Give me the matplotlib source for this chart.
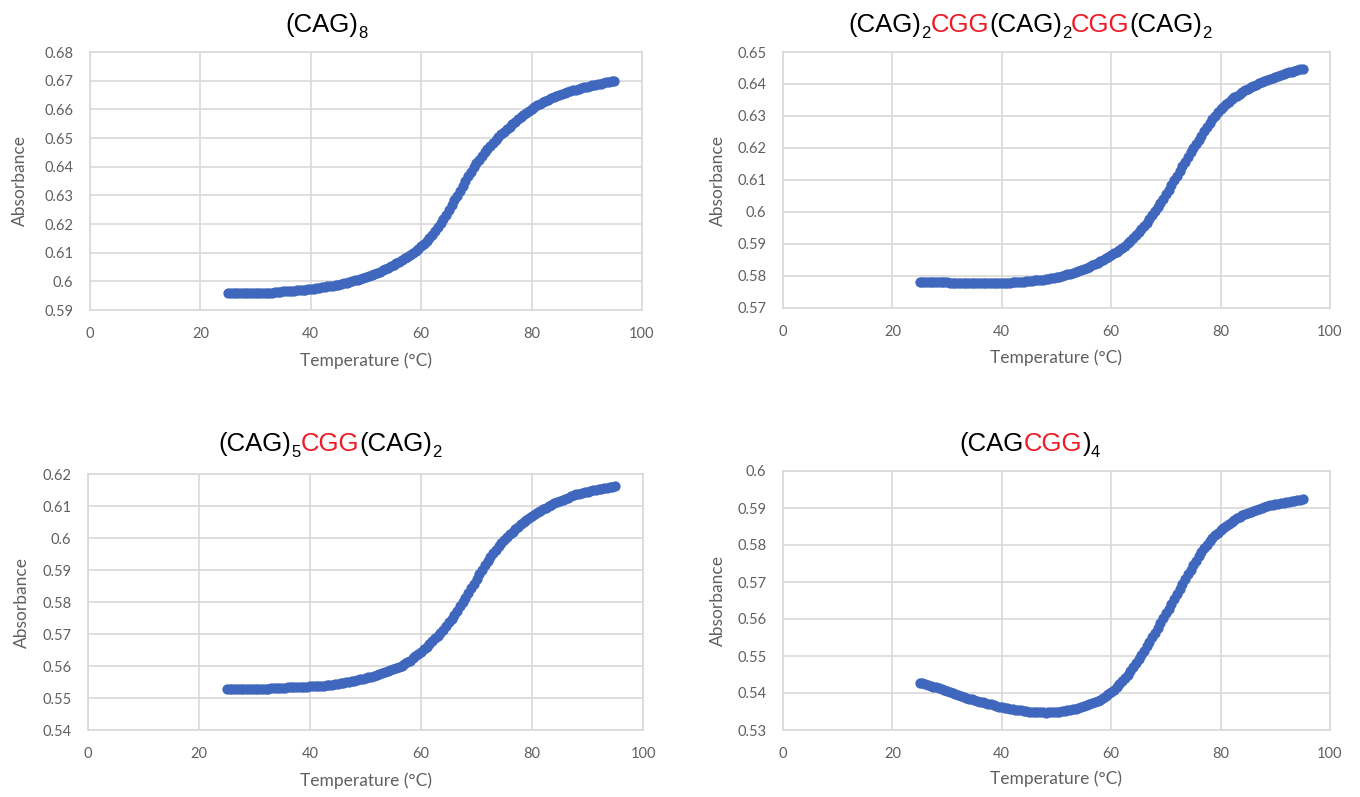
import numpy as np
import matplotlib
matplotlib.use("Agg")
import matplotlib.pyplot as plt
from matplotlib.ticker import FixedLocator, FuncFormatter

# temperature grid of the melt run (deg C)
temps = [25.0, 25.5, 26.0, 26.5, 27.0, 27.5, 28.0, 28.5, 29.0, 29.5,
         30.0, 30.5, 31.0, 31.5, 32.0, 32.5, 33.0, 33.5, 34.0, 34.5,
         35.0, 35.5, 36.0, 36.5, 37.0, 37.5, 38.0, 38.5, 39.0, 39.5,
         40.0, 40.5, 41.0, 41.5, 42.0, 42.5, 43.0, 43.5, 44.0, 44.5,
         45.0, 45.5, 46.0, 46.5, 47.0, 47.5, 48.0, 48.5, 49.0, 49.5,
         50.0, 50.5, 51.0, 51.5, 52.0, 52.5, 53.0, 53.5, 54.0, 54.5,
         55.0, 55.5, 56.0, 56.5, 57.0, 57.5, 58.0, 58.5, 59.0, 59.5,
         60.0, 60.5, 61.0, 61.5, 62.0, 62.5, 63.0, 63.5, 64.0, 64.5,
         65.0, 65.5, 66.0, 66.5, 67.0, 67.5, 68.0, 68.5, 69.0, 69.5,
         70.0, 70.5, 71.0, 71.5, 72.0, 72.5, 73.0, 73.5, 74.0, 74.5,
         75.0, 75.5, 76.0, 76.5, 77.0, 77.5, 78.0, 78.5, 79.0, 79.5,
         80.0, 80.5, 81.0, 81.5, 82.0, 82.5, 83.0, 83.5, 84.0, 84.5,
         85.0, 85.5, 86.0, 86.5, 87.0, 87.5, 88.0, 88.5, 89.0, 89.5,
         90.0, 90.5, 91.0, 91.5, 92.0, 92.5, 93.0, 93.5, 94.0, 94.5,
         95.0]

abs_cag8 = [.5960, .59595, .5959, .59585, .5958, .5958, .5958, .5958, .5958, .5958,
            .5958, .59585, .5959, .59595, .5960, .59605, .5961, .5962, .5963, .5964,
            .5965, .59655, .5966, .5967, .5968, .5969, .5970, .59705, .5971, .5972,
            .5973, .59745, .5976, .59775, .5979, .59805, .5982, .59835, .5985, .59865,
            .5988, .59905, .5993, .5995, .5997, .6000, .6003, .60055, .6008, .60115,
            .6015, .60185, .6022, .6026, .6030, .6034, .6038, .6043, .6048, .6053,
            .6058, .60635, .6069, .60745, .6080, .6086, .6092, .60985, .6105, .61135,
            .6122, .61315, .6141, .6152, .6163, .61755, .6188, .62025, .6217, .6233,
            .6249, .62655, .6282, .6299, .6316, .6333, .6350, .63665, .6383, .63975,
            .6412, .6425, .6438, .6450, .6462, .64725, .6483, .6493, .6503, .65125,
            .6522, .6531, .6540, .65485, .6557, .6565, .6573, .65805, .6588, .6595,
            .6602, .6608, .6614, .66195, .6625, .66295, .6634, .66385, .6643, .6647,
            .6651, .66545, .6658, .6661, .6664, .66665, .6669, .66715, .6674, .66765,
            .6679, .66815, .6684, .6686, .6688, .6690, .6692, .6694, .6696, .6698,
            .6700]

abs_2cgg = [.5782, .57815, .5781, .5781, .5781, .57805, .5780, .5780, .5780, .5780,
            .5780, .57795, .5779, .5779, .5779, .57785, .5778, .5778, .5778, .5778,
            .5778, .5778, .5778, .5778, .5778, .5778, .5778, .5778, .5778, .57785,
            .5779, .5779, .5779, .57795, .5780, .57805, .5781, .57815, .5782, .5783,
            .5784, .5785, .5786, .5787, .5788, .5789, .5790, .57915, .5793, .57945,
            .5796, .5798, .5800, .58025, .5805, .58075, .5810, .5813, .5816, .58195,
            .5823, .5826, .5829, .5833, .5837, .58415, .5846, .58505, .5855, .5860,
            .5865, .58705, .5876, .5882, .5888, .5895, .5902, .5910, .5918, .5927,
            .5936, .5946, .5956, .5967, .5978, .5990, .6002, .6015, .6028, .60415,
            .6055, .60695, .6084, .60985, .6113, .6128, .6143, .61575, .6172, .6186,
            .6200, .6213, .6226, .6239, .6252, .6265, .6278, .62895, .6301, .6311,
            .6321, .63295, .6338, .6345, .6352, .6358, .6364, .63695, .6375, .6380,
            .6385, .63895, .6394, .6398, .6402, .6406, .6410, .64135, .6417, .6420,
            .6423, .6426, .6429, .64315, .6434, .64365, .6439, .64415, .6444, .6446,
            .6448]

abs_1cgg = [.5528, .55275, .5527, .5527, .5527, .5527, .5527, .5527, .5527, .5527,
            .5527, .55275, .5528, .55285, .5529, .55295, .5530, .55305, .5531, .55315,
            .5532, .55325, .5533, .5533, .5533, .55335, .5534, .55345, .5535, .55355,
            .5536, .55365, .5537, .55375, .5538, .5539, .5540, .5541, .5542, .5543,
            .5544, .55455, .5547, .55485, .5550, .5552, .5554, .5556, .5558, .5560,
            .5562, .55645, .5567, .5570, .5573, .55755, .5578, .5581, .5584, .5587,
            .5590, .55935, .5597, .56015, .5606, .56115, .5617, .56235, .5630, .56375,
            .5645, .56525, .5660, .56685, .5677, .5686, .5695, .57045, .5714, .5725,
            .5736, .5748, .5760, .5773, .5786, .5800, .5814, .58285, .5843, .58575,
            .5872, .58865, .5901, .59145, .5928, .59405, .5953, .5964, .5975, .5985,
            .5995, .60035, .6012, .6020, .6028, .60355, .6043, .60495, .6056, .6062,
            .6068, .6074, .6080, .6085, .6090, .60945, .6099, .61035, .6108, .6112,
            .6116, .61195, .6123, .61265, .6130, .6133, .6136, .61385, .6141, .6143,
            .6145, .6147, .6149, .6151, .6153, .61545, .6156, .61575, .6159, .61605,
            .6162]

abs_cagcgg4 = [.5428, .5426, .5424, .54215, .5419, .5417, .5415, .54125, .5410, .54075,
               .5405, .54025, .5400, .53975, .5395, .53925, .5390, .53875, .5385, .5383,
               .5381, .5379, .5377, .5375, .5373, .5371, .5369, .5367, .5365, .53635,
               .5362, .53605, .5359, .53575, .5356, .5355, .5354, .5353, .5352, .5351,
               .5350, .53495, .5349, .53485, .5348, .53475, .5347, .53475, .5348, .53485,
               .5349, .5350, .5351, .5352, .5353, .53545, .5356, .5358, .5360, .5362,
               .5364, .53665, .5369, .5372, .5375, .53785, .5382, .53865, .5391, .53965,
               .5402, .5409, .5416, .5424, .5432, .5441, .5450, .5460, .5470, .54805,
               .5491, .55025, .5514, .5526, .5538, .55505, .5563, .5576, .5589, .5602,
               .5615, .5628, .5641, .5654, .5667, .56805, .5694, .57075, .5721, .57335,
               .5746, .5758, .5770, .57805, .5791, .58005, .5810, .5818, .5826, .5833,
               .5840, .5846, .5852, .58575, .5863, .58675, .5872, .5876, .5880, .58835,
               .5887, .5890, .5893, .58955, .5898, .59005, .5903, .5905, .5907, .59085,
               .5910, .59115, .5913, .59145, .5916, .59175, .5919, .5920, .5921, .5922,
               .5923]

x_ticks = [0, 20, 40, 60, 80, 100]
y_ticks_cag8 = [0.59, 0.60, 0.61, 0.62, 0.63, 0.64, 0.65, 0.66, 0.67, 0.68]
y_ticks_2cgg = [0.57, 0.58, 0.59, 0.60, 0.61, 0.62, 0.63, 0.64, 0.65]
y_ticks_1cgg = [0.54, 0.55, 0.56, 0.57, 0.58, 0.59, 0.60, 0.61, 0.62]
y_ticks_cagcgg4 = [0.53, 0.54, 0.55, 0.56, 0.57, 0.58, 0.59, 0.60]

# title pieces: (text, colour, subscript?)
title_cag8 = [("(CAG)", "k", False), ("8", "k", True)]
title_2cgg = [("(CAG)", "k", False), ("2", "k", True), ("CGG", "red", False),
              ("(CAG)", "k", False), ("2", "k", True), ("CGG", "red", False),
              ("(CAG)", "k", False), ("2", "k", True)]
title_1cgg = [("(CAG)", "k", False), ("5", "k", True), ("CGG", "red", False),
              ("(CAG)", "k", False), ("2", "k", True)]
title_cagcgg4 = [("(CAG", "k", False), ("CGG", "red", False), (")", "k", False),
                 ("4", "k", True)]

W, H = 1360, 797
BLUE = "#3F67BD"
GRID = "#d9d9d9"
TXT = "#606060"
RED = "#ee1c25"

fig = plt.figure(figsize=(W / 100, H / 100), dpi=100)
fig.patch.set_facecolor("white")


def px_axes(left, top, right, bottom):
    return fig.add_axes([left / W, 1 - bottom / H, (right - left) / W, (bottom - top) / H])


def fmt(v, pos):
    s = "%.2f" % v
    s = s.rstrip("0")
    return s


def setup(ax, yvals, yticks, ylab_x, xlab_y):
    ax.plot(temps, yvals, "o", color=BLUE, markersize=7.4, markeredgewidth=0)
    ax.set_xlim(0, 100)
    ax.set_ylim(yticks[0], yticks[-1])
    ax.xaxis.set_major_locator(FixedLocator(x_ticks))
    ax.yaxis.set_major_locator(FixedLocator(yticks))
    ax.yaxis.set_major_formatter(FuncFormatter(fmt))
    ax.grid(True, color=GRID, lw=1.2)
    ax.set_axisbelow(True)
    for sp in ax.spines.values():
        sp.set_color(GRID)
        sp.set_linewidth(1.2)
    ax.tick_params(length=0, labelsize=10.5, labelcolor=TXT, pad=12)
    for lab in ax.get_xticklabels() + ax.get_yticklabels():
        lab.set_family("Lato")
    ax.set_xlabel("Temperature (°C)", fontsize=12.5, color=TXT, family="Lato")
    ax.set_ylabel("Absorbance", fontsize=12.5, color=TXT, family="Lato")
    ax.xaxis.set_label_coords(0.5, xlab_y)
    ax.xaxis.label.set_va("center")
    ax.yaxis.set_label_coords(ylab_x, 0.5)
    ax.yaxis.label.set_va("center")


def draw_title(pieces, cx, base_y):
    r = fig.canvas.get_renderer()
    objs = []
    total = 0
    for s, c, sub in pieces:
        col = RED if c == "red" else "black"
        t = fig.text(0, 0, s, color=col, fontsize=12 if sub else 18.5,
                     family="Liberation Sans", va="baseline", ha="left")
        w = t.get_window_extent(r).width
        objs.append((t, w, sub))
        total += w
    x = cx - total / 2
    for t, w, sub in objs:
        yb = base_y + (6 if sub else 0)
        t.set_position((x / W, 1 - yb / H))
        x += w


ax1 = px_axes(90, 52, 642, 310)
setup(ax1, abs_cag8, y_ticks_cag8, -0.127, -0.198)
ax2 = px_axes(783, 52, 1330, 308)
setup(ax2, abs_2cgg, y_ticks_2cgg, -0.119, -0.195)
ax3 = px_axes(88, 474, 643, 730)
setup(ax3, abs_1cgg, y_ticks_1cgg, -0.119, -0.2)
ax4 = px_axes(783, 471, 1330, 730)
setup(ax4, abs_cagcgg4, y_ticks_cagcgg4, -0.119, -0.188)

draw_title(title_cag8, 326, 32)
draw_title(title_2cgg, 1030, 32)
draw_title(title_1cgg, 330, 451)
draw_title(title_cagcgg4, 1030, 451)

fig.savefig("out.png", dpi=100, facecolor="white")
